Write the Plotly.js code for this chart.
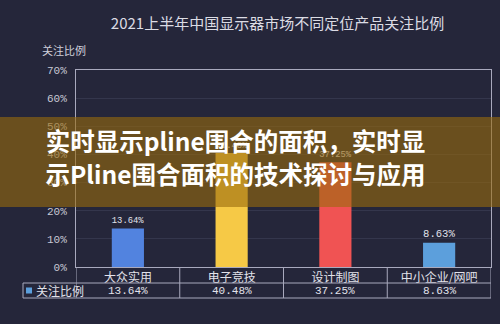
<!DOCTYPE html>
<html><head><meta charset="utf-8">
<script src="https://cdn.plot.ly/plotly-3.0.1.min.js"></script>
<style>html,body{margin:0;padding:0;background:#25263a;}#chart{width:500px;height:324px;}</style>
</head><body><div id="chart"></div>
<script>
const categories = ['大众实用', '电子竞技', '设计制图', '中小企业/网吧'];
const values = [13.64, 40.48, 37.25, 8.63];
const valueLabels = ['13.64%', '40.48%', '37.25%', '8.63%'];
const barColors = ['#5283df', '#f6c946', '#f05353', '#5c9fdc'];
const seriesName = '关注比例';
const chartTitle = '2021上半年中国显示器市场不同定位产品关注比例';
const bannerLines = ['实时显示pline围合的面积，实时显', '示Pline围合面积的技术探讨与应用'];

const CJK = '"Noto Sans CJK SC", "Noto Sans", sans-serif';
const MONO = '"Liberation Mono", "DejaVu Sans Mono", monospace';
const lineCol = '#a9a9bd';
// pixel helpers (plot area: x 76..491, y 70..267)
const L = 76, R = 491, T = 70, B = 267;
const px = X => (X - L) / (R - L);
const py = Y => (B - Y) / (B - T);

const shapes = [];
[283, 298].forEach(Y => shapes.push({type:'line', xref:'paper', yref:'paper', x0: px(23), x1: 1, y0: py(Y), y1: py(Y), line:{color:lineCol, width:1}}));
for (let i = -0.5; i <= categories.length - 0.5; i += 1) {
  shapes.push({type:'line', xref:'x', yref:'paper', x0:i, x1:i, y0: py(267), y1: py(298), line:{color:lineCol, width:1}});
}
shapes.push({type:'line', xref:'paper', yref:'paper', x0:px(23), x1:px(23), y0:py(283), y1:py(298), line:{color:lineCol, width:1}});
shapes.push({type:'rect', xref:'paper', yref:'paper', x0:px(26), x1:px(32), y0:py(287.5), y1:py(293.5), fillcolor:'#5c9fdc', line:{width:0}});
// banner
shapes.push({type:'rect', layer:'above', xref:'paper', yref:'paper', x0:px(0), x1:px(500), y0:py(207), y1:py(117), fillcolor:'rgba(154,106,11,0.6)', line:{width:0}});
// banner text as shape labels (centred in an invisible box)
bannerLines.forEach((t, k) => {
  const c = k === 0 ? 143.5 : 176.5;
  shapes.push({type:'rect', layer:'above', xref:'paper', yref:'paper', x0:px(33), x1:px(438), y0:py(c + 12), y1:py(c - 12),
    fillcolor:'rgba(0,0,0,0)', line:{width:0},
    label:{text:t, textposition:'middle center', font:{family:CJK, size:24.5, color:'#ffffff', weight:700}}});
});

const annotations = [];
categories.forEach((c, i) => annotations.push({xref:'x', yref:'paper', x:c, y:py(290.5), xanchor:'center', yanchor:'middle', text:valueLabels[i], showarrow:false, font:{family:MONO, size:11, color:'#e2e2ea'}}));
annotations.push({xref:'paper', yref:'paper', x:px(33.5), y:py(290.5), xanchor:'left', yanchor:'middle', text:seriesName, showarrow:false, font:{family:CJK, size:12, color:'#e2e2ea'}});
annotations.push({xref:'paper', yref:'paper', x:px(40), y:py(50), xanchor:'left', yanchor:'middle', text:seriesName, showarrow:false, font:{family:CJK, size:11, color:'#d0d0da'}});

const trace = {
  type:'bar', x:categories, y:values, name:seriesName,
  marker:{color:barColors}, width:0.31,
  text:valueLabels, textposition:'outside', cliponaxis:false,
  textfont:{family:MONO, size:11, color:'#e2e2ea'}, hoverinfo:'none'
};

const layout = {
  width:500, height:324,
  paper_bgcolor:'#25263a', plot_bgcolor:'#25263a',
  margin:{l:L, r:500-R, t:T, b:324-B, autoexpand:false},
  showlegend:false,
  title:{text:chartTitle, x:0.555, xanchor:'center', y:1-24/324, yanchor:'middle', font:{family:CJK, size:15, color:'#dcdce4'}},
  xaxis:{type:'category', range:[-0.5, 3.5], showline:true, mirror:true, linecolor:lineCol, linewidth:1, showgrid:false, ticks:'', tickfont:{family:CJK, size:12, color:'#e2e2ea'}, ticklabelstandoff:0},
  yaxis:{range:[0,70], dtick:10, ticksuffix:'%', showline:true, mirror:true, linecolor:lineCol, linewidth:1, gridcolor:'#34364c', zeroline:false, ticks:'', tickfont:{family:MONO, size:11, color:'#c8c8d4'}, ticklabelstandoff:6},
  shapes, annotations
};
Plotly.newPlot('chart', [trace], layout, {staticPlot:true, displayModeBar:false});
</script></body></html>
